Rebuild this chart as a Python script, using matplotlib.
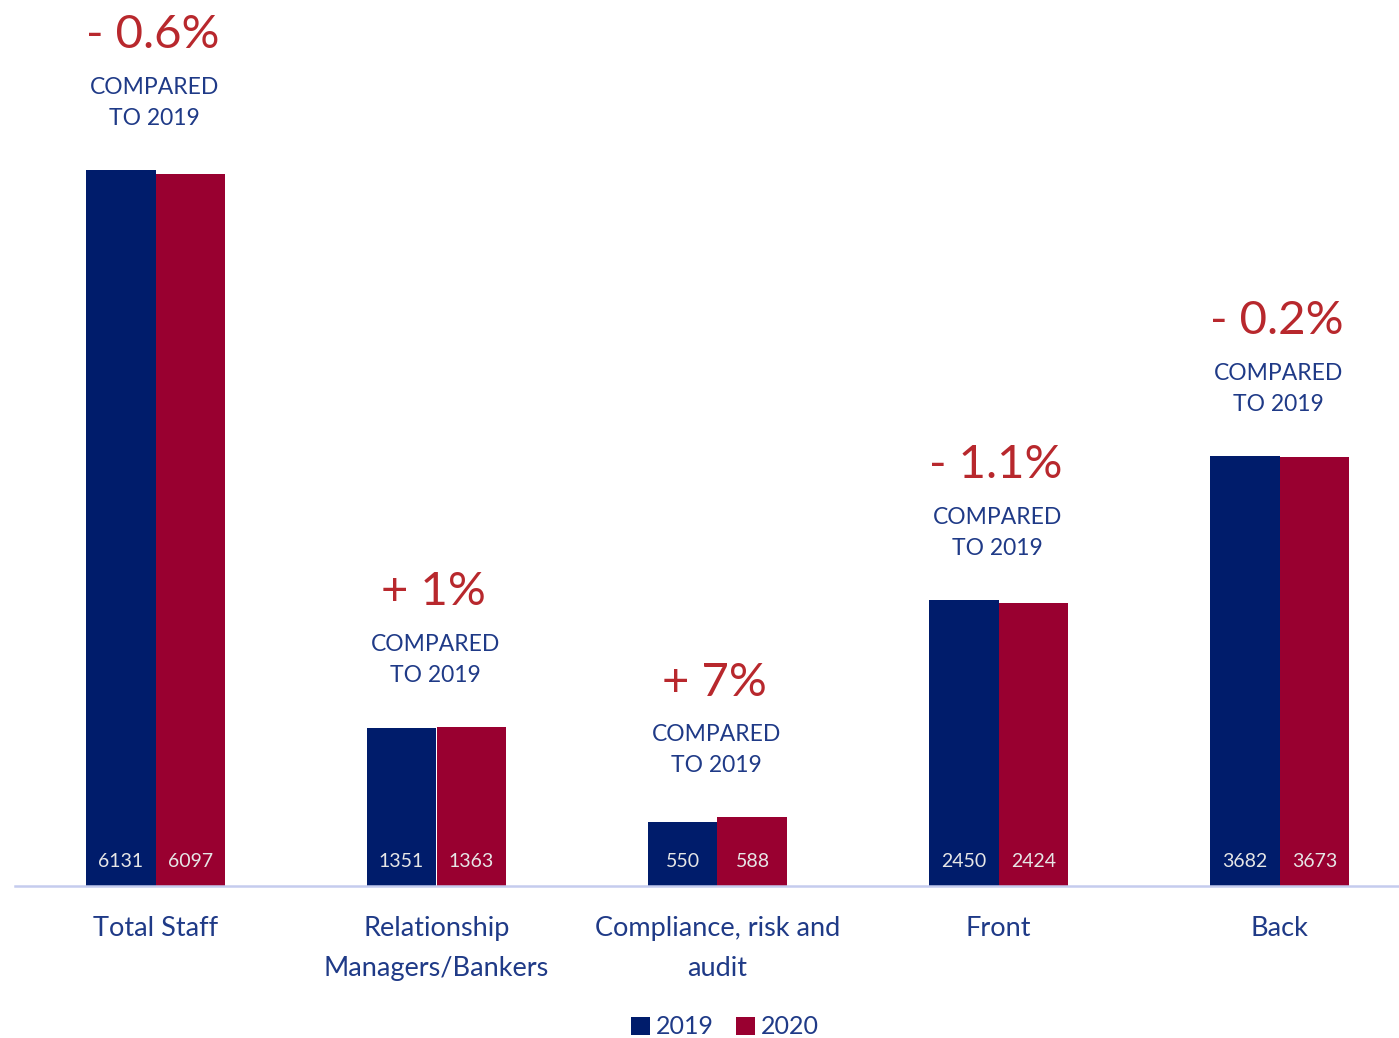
import matplotlib.pyplot as plt
import numpy as np

plt.rcParams['font.family'] = ['Lato', 'DejaVu Sans']

# data
categories = ["Total Staff", "Relationship\nManagers/Bankers", "Compliance, risk and\naudit", "Front", "Back"]
staff_2019 = [6131, 1351, 550, 2450, 3682]
staff_2020 = [6097, 1363, 588, 2424, 3673]
changes = ["- 0.6%", "+ 1%", "+ 7%", "- 1.1%", "- 0.2%"]

navy = '#001C6B'
crimson = '#990030'
red_txt = '#B8282D'
blue_txt = '#1F3A87'

fig = plt.figure(figsize=(13.99, 10.38), dpi=100)
W, H = 1399, 1038
# axes: baseline at y=886px, group spacing 281px starting at 156px
ax = fig.add_axes([15 / W, (H - 886) / H, 1405 / W, 886 / H])

x = np.arange(len(categories))
w = 0.249
b1 = ax.bar(x - w / 2, staff_2019, w, color=navy, label='2019')
b2 = ax.bar(x + w / 2, staff_2020, w, color=crimson, label='2020')

ax.set_xlim(-0.5, 4.5)
ax.set_ylim(0, 7587)

# value labels inside the bars, near the bottom
for bars in (b1, b2):
    for r in bars:
        ax.annotate(str(int(r.get_height())), (r.get_x() + r.get_width() / 2, 0),
                    xytext=(0, 17.5), textcoords='offset points', ha='center', va='center',
                    fontsize=14, color='#E6E6E6')

# change annotations above each group
for i in range(len(categories)):
    top = max(staff_2019[i], staff_2020[i])
    ax.annotate(changes[i], (x[i], top), xytext=(-2, 97), textcoords='offset points',
                ha='center', va='center', fontsize=34, color=red_txt)
    ax.annotate("COMPARED", (x[i], top), xytext=(-1, 59.5), textcoords='offset points',
                ha='center', va='center', fontsize=16.5, color=blue_txt)
    ax.annotate("TO 2019", (x[i], top), xytext=(-1, 37), textcoords='offset points',
                ha='center', va='center', fontsize=16.5, color=blue_txt)

ax.set_xticks(x)
ax.set_xticklabels(categories, fontsize=19.5, color=blue_txt, linespacing=1.75)
ax.tick_params(axis='x', length=0, pad=21.5)
ax.set_yticks([])
for s in ['top', 'left', 'right']:
    ax.spines[s].set_visible(False)
ax.spines['bottom'].set_color('#C5CCEE')
ax.spines['bottom'].set_linewidth(1.8)

fig.legend(loc='center', bbox_to_anchor=(725 / W, 1 - 1027 / H), ncol=2, frameon=False,
           fontsize=18, labelcolor=blue_txt, handlelength=0.75, handleheight=0.75,
           handletextpad=0.25, columnspacing=0.9)

fig.savefig('out.png', dpi=100)
